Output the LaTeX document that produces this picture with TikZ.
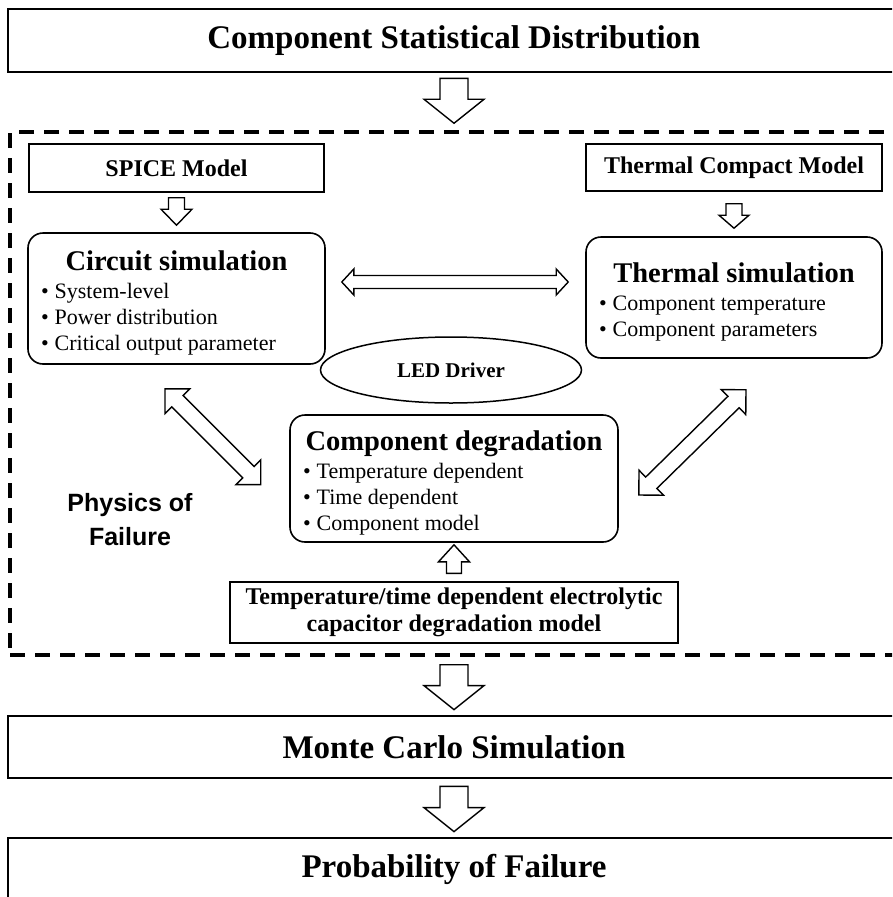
\documentclass[tikz,border=0pt]{standalone}
\usepackage{fontspec}
\setmainfont{Liberation Serif}
\newfontfamily\pofsans{Liberation Sans}
\usetikzlibrary{calc,shapes.geometric}

\tikzset{every picture/.style={line width=1.5pt}}
\tikzset{
  bigbox/.style={draw, line width=2.8pt, minimum width=892, minimum height=62, font=\fontsize{33}{36}\selectfont\bfseries},
  modelbox/.style={draw, line width=1.4pt, font=\fontsize{24}{27}\selectfont\bfseries, align=flush center},
  simbox/.style={draw, rounded corners=15pt, line width=1.6pt, inner xsep=13pt, inner ysep=0pt, align=flush left, execute at end node={\par\vspace{-8pt}}},
  groupbox/.style={draw, line width=3.5pt, dash pattern=on 15pt off 10pt},
  blkarrow/.style={draw, fill=white, line width=1.4pt, line join=miter},
}

% macros for the block arrows between two named points
\newcommand{\getvec}[2]{\path let \p1=(#1), \p2=(#2), \n1={atan2(\y2-\y1,\x2-\x1)}, \n2={veclen(\x2-\x1,\y2-\y1)} in \pgfextra{\xdef\arrang{\n1}\xdef\arrlen{\n2}};}
\newcommand{\blockarrow}[5]{% from, to, half shaft, half head, head length
  \getvec{#1}{#2}
  \draw[blkarrow, shift={(#1)}, rotate=\arrang] (0,#3) -- ({\arrlen-#5},#3) -- ({\arrlen-#5},#4) -- (\arrlen,0) -- ({\arrlen-#5},-#4) -- ({\arrlen-#5},-#3) -- (0,-#3) -- cycle;}
\newcommand{\dblarrow}[5]{% end, end, half shaft, half head, head length
  \getvec{#1}{#2}
  \draw[blkarrow, shift={(#1)}, rotate=\arrang] (0,0) -- (#5,#4) -- (#5,#3) -- ({\arrlen-#5},#3) -- ({\arrlen-#5},#4) -- (\arrlen,0) -- ({\arrlen-#5},-#4) -- ({\arrlen-#5},-#3) -- (#5,-#3) -- (#5,-#4) -- cycle;}

\newcommand{\boxtitle}[1]{{\centering\fontsize{28.5}{29}\selectfont\bfseries #1\par}\vspace{2pt}}
\newcommand{\bitem}[1]{{\fontsize{22}{26}\selectfont\textbullet\hspace{6pt}#1\par}}

\begin{document}
\begin{tikzpicture}[x=1pt,y=-1pt]
  \useasboundingbox (0,0) rectangle (892,897);
  \clip (0,0) rectangle (892,897);

  %Big boxes
  \node[bigbox, minimum height=63] (csd) at (454,40.5) {Component Statistical Distribution};
  \node[groupbox, minimum width=888, minimum height=523] (frame) at (454,393.5) {};
  \node[bigbox] (mcs) at (454,747) {Monte Carlo Simulation};
  \node[bigbox] (pof) at (454,869) {Probability of Failure};

  %Model boxes
  \node[modelbox, minimum width=295, minimum height=48] (spice) at (176.5,168) {SPICE Model};
  \node[modelbox, minimum width=296, minimum height=47] (tcm) at (734,167.5) {Thermal Compact Model};
  \node[modelbox, minimum width=448, minimum height=61] (tdm) at (454,612.5) {Temperature/time dependent electrolytic\\capacitor degradation model};

  %Simulation boxes
  \node[simbox, text width=271, minimum height=131] (circ) at (176.5,298.5) {\boxtitle{Circuit simulation}\bitem{System-level}\bitem{Power distribution}\bitem{Critical output parameter}};
  \node[simbox, text width=270, minimum height=121] (therm) at (734,297.5) {\boxtitle{Thermal simulation}\bitem{Component temperature}\bitem{Component parameters}};
  \node[simbox, text width=302, minimum height=127] (cdeg) at (454,478.5) {\boxtitle{Component degradation}\bitem{Temperature dependent}\bitem{Time dependent}\bitem{Component model}};

  %Ellipse
  \node[ellipse, draw, minimum width=261, minimum height=66, inner sep=0pt, font=\fontsize{21}{23}\selectfont\bfseries] (led) at (451,370) {LED Driver};

  % Text Node
  \node[font=\pofsans\fontsize{25}{34}\selectfont\bfseries, align=flush center] (phys) at (130,520) {Physics of\\Failure};

  %Arrow ends
  \coordinate (a1s) at ($(csd.south)+(0,5)$);
  \coordinate (a1e) at ($(frame.north)+(0,-7)$);
  \coordinate (a2s) at ($(spice.south)+(0,5)$);
  \coordinate (a2e) at ($(circ.north)+(0,-7)$);
  \coordinate (a3s) at ($(tcm.south)+(0,12)$);
  \coordinate (a3e) at ($(therm.north)+(0,-8)$);
  \coordinate (a4s) at ($(circ.east)+(16,-16.5)$);
  \coordinate (a4e) at ($(therm.west)+(-17,-15.5)$);
  \coordinate (a5s) at ($(circ.south)+(-11.5,24)$);
  \coordinate (a5e) at ($(cdeg.west)+(-28,6.5)$);
  \coordinate (a6s) at ($(cdeg.east)+(20,16.5)$);
  \coordinate (a6e) at ($(therm.south)+(12,31)$);
  \coordinate (a7s) at ($(tdm.north)+(0,-8)$);
  \coordinate (a7e) at ($(cdeg.south)+(0,2)$);
  \coordinate (a8s) at ($(frame.south)+(0,8)$);
  \coordinate (a8e) at ($(mcs.north)+(0,-5)$);
  \coordinate (a9s) at ($(mcs.south)+(0,7)$);
  \coordinate (a9e) at ($(pof.north)+(0,-5)$);

  %Block arrows
  \blockarrow{a1s}{a1e}{14}{30}{24}
  \blockarrow{a2s}{a2e}{8}{15.5}{16}
  \blockarrow{a3s}{a3e}{8}{15}{13}
  \dblarrow{a4s}{a4e}{6.5}{13}{12}
  \dblarrow{a5s}{a5e}{8}{17.5}{17.5}
  \dblarrow{a6s}{a6e}{8}{17.5}{17.5}
  \blockarrow{a7s}{a7e}{7.5}{15.5}{17}
  \blockarrow{a8s}{a8e}{14}{30}{24}
  \blockarrow{a9s}{a9e}{14}{30}{24}

\end{tikzpicture}
\end{document}
